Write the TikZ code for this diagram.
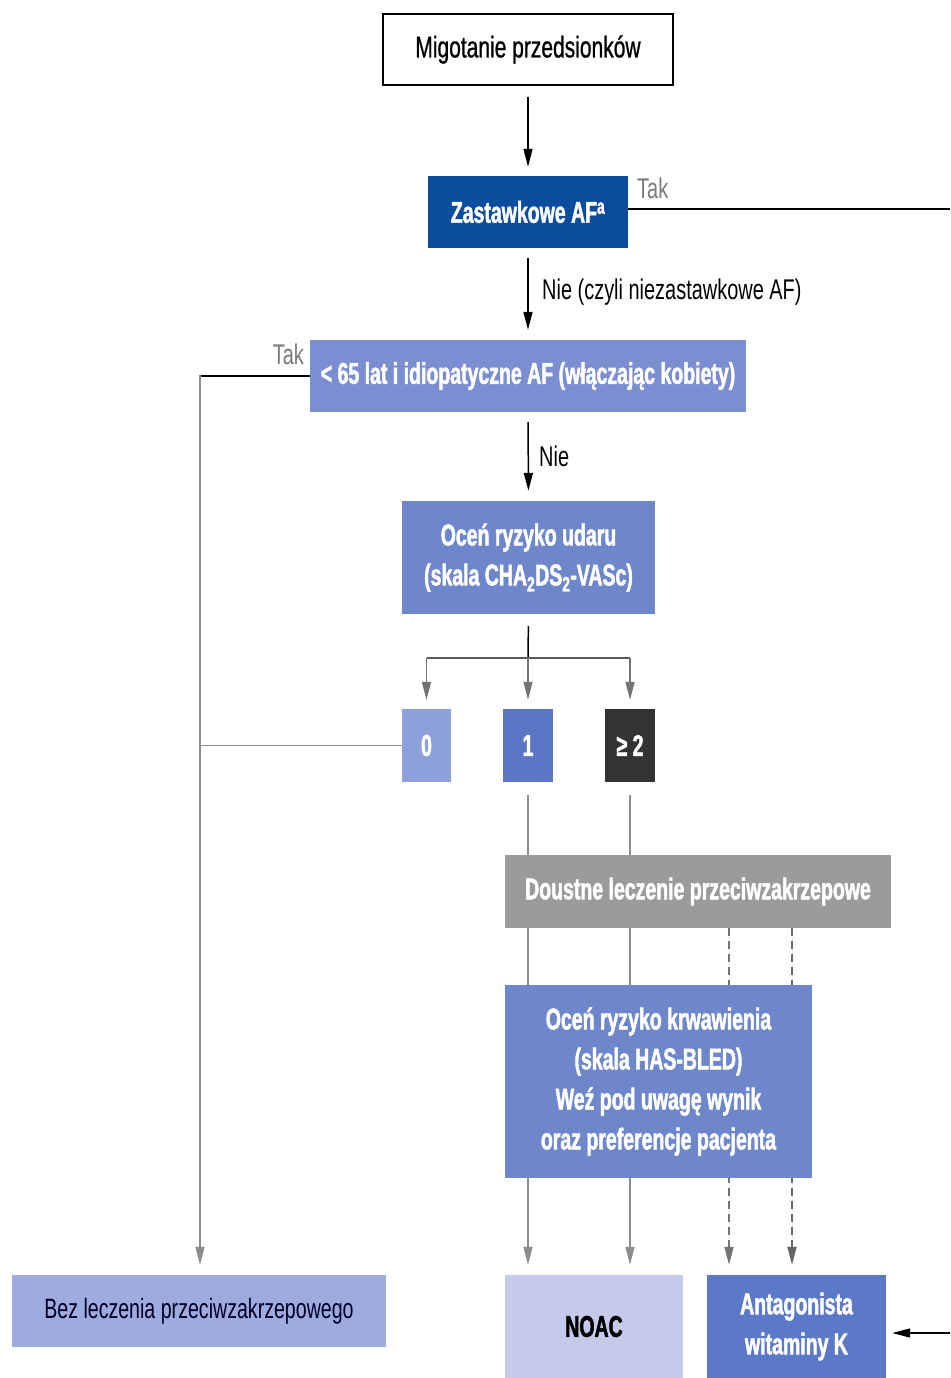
\documentclass[tikz,border=0pt]{standalone}
\usepackage{fontspec}
\setmainfont{Liberation Sans}[FakeStretch=0.7, BoldFont={Liberation Sans Bold}, BoldFeatures={FakeStretch=0.65, FakeBold=1.6}]
\newfontfamily\medfont{Liberation Sans}[FakeStretch=0.7, FakeBold=0.8]
\usetikzlibrary{arrows.meta}
\definecolor{cdark}{HTML}{0B4C9C}
\definecolor{cperi}{HTML}{7B8ED2}
\definecolor{cmid}{HTML}{6E87CB}
\definecolor{czero}{HTML}{8EA0DA}
\definecolor{cone}{HTML}{5A76C4}
\definecolor{ctwo}{HTML}{333333}
\definecolor{cgray}{HTML}{9B9B9B}
\definecolor{cnoac}{HTML}{C5CAEB}
\definecolor{cant}{HTML}{5B79C6}
\definecolor{cbez}{HTML}{9DABDF}
\definecolor{ctak}{HTML}{7A7A7A}
\definecolor{cline}{HTML}{8C8C8C}
\pgfdeclarelayer{bg}
\pgfsetlayers{bg,main}
\tikzset{
  box/.style={inner sep=0pt, align=center, font=\fontsize{30}{40}\selectfont\bfseries, text=white},
  lbl/.style={inner sep=0pt, font=\fontsize{28.5}{34}\selectfont},
  arr/.style={line width=1.5pt, -{Triangle[length=18pt,width=9pt]}},
  plain/.style={line width=1.5pt},
}
\begin{document}
\begin{tikzpicture}[x=1pt,y=-1pt]
\useasboundingbox (0,0) rectangle (950,1378);
% nodes
\node[box, draw=black, line width=1.5pt, fill=white, text=black, font=\medfont\fontsize{30}{36}\selectfont, minimum width=290pt, minimum height=71pt] (mig) at (528,49.5) {Migotanie przedsionków};
\node[box, fill=cdark, minimum width=200pt, minimum height=72pt] (zast) at (528,212) {Zastawkowe AF\textsuperscript{a}};
\node[box, fill=cperi, minimum width=436pt, minimum height=72pt] (lt) at (528,376) {< 65 lat i idiopatyczne AF (włączając kobiety)};
\node[box, fill=cmid, minimum width=253pt, minimum height=113pt] (udar) at (528.5,557.5) {Oceń ryzyko udaru\\(skala CHA\textsubscript{2}DS\textsubscript{2}-VASc)};
\node[box, fill=czero, minimum width=49pt, minimum height=73pt] (b0) at (426.5,745.5) {0};
\node[box, fill=cone, minimum width=50pt, minimum height=73pt] (b1) at (528,745.5) {1};
\node[box, fill=ctwo, minimum width=50pt, minimum height=73pt] (b2) at (630,745.5) {≥ 2};
\node[box, fill=cgray, minimum width=386pt, minimum height=73pt] (dou) at (698,891.5) {Doustne leczenie przeciwzakrzepowe};
\node[box, fill=cmid, minimum width=307pt, minimum height=193pt] (krw) at (658.5,1081.5) {Oceń ryzyko krwawienia\\(skala HAS-BLED)\\Weź pod uwagę wynik\\oraz preferencje pacjenta};
\node[box, fill=cnoac, text=black, minimum width=178pt, minimum height=103pt] (noac) at (594,1326.5) {NOAC};
\node[box, fill=cant, minimum width=179pt, minimum height=103pt] (ant) at (796.5,1326.5) {Antagonista\\witaminy K};
\node[box, fill=cbez, text=black!85!blue, font=\fontsize{28}{34}\selectfont, minimum width=374pt, minimum height=72pt] (bez) at (199,1311) {Bez leczenia przeciwzakrzepowego};
% labels
\node[lbl, text=ctak, anchor=west] (tak1) at (637,188) {Tak};
\node[lbl, text=ctak, anchor=east] (tak2) at (304,354) {Tak};
\node[lbl, anchor=west] (nie1) at (542,292) {Nie (czyli niezastawkowe AF)};
\node[lbl, anchor=west] (nie2) at (539,456) {Nie};
% coordinates
\coordinate (fork) at (528,658);
\coordinate (f0) at (426.5,658);
\coordinate (f2) at (630,658);
\coordinate (lc) at (200,375);
\coordinate (rE) at (950,209);
\coordinate (rB) at (950,1333);
\begin{pgfonlayer}{bg}
\fill[white] (0,0) rectangle (950,1378);
\draw[arr, shorten <=11pt, shorten >=9pt] (mig.south) -- (zast.north);
\draw[arr, shorten <=10pt, shorten >=10pt] (zast.south) -- (lt.north);
\draw[arr, shorten <=10pt, shorten >=10pt] (lt.south) -- (udar.north);
\draw[plain, shorten <=12pt] (udar.south) -- (fork);
\draw[plain, draw=black!65] (f0) -- (f2);
\draw[arr, draw=black!55, fill=czero, shorten >=9pt] (f0) -- (b0.north);
\draw[arr, draw=black!55, fill=cone, shorten >=9pt] (fork) -- (b1.north);
\draw[arr, draw=black!55, fill=cgray, shorten >=9pt] (f2) -- (b2.north);
\draw[plain] ([yshift=3pt]zast.east) -- (rE);
\draw[arr, shorten >=6pt] (rB) -- (rB -| ant.east);
\draw[plain] (lt.west) -- (lt.west -| lc);
\draw[arr, draw=cline, fill=czero, shorten >=10pt] (lc) -- (lc |- bez.north);
\draw[plain, draw=cline] (b0.west) -- (b0.west -| lc);
\draw[arr, draw=cline, fill=czero!70!gray, shorten <=13pt, shorten >=10pt] (b1.south) -- (b1.south |- noac.north);
\draw[arr, draw=cline, fill=cgray, shorten <=13pt, shorten >=10pt] (b2.south) -- (b2.south |- noac.north);
\draw[arr, draw=black!55, fill=cmid, dash pattern=on 8pt off 5pt, shorten >=10pt] ([xshift=31pt]dou.south) -- ([xshift=31pt]dou.south |- ant.north);
\draw[arr, draw=black!60, fill=black!65, dash pattern=on 8pt off 5pt, shorten >=10pt] ([xshift=94pt]dou.south) -- ([xshift=94pt]dou.south |- ant.north);
\end{pgfonlayer}
\end{tikzpicture}
\end{document}
